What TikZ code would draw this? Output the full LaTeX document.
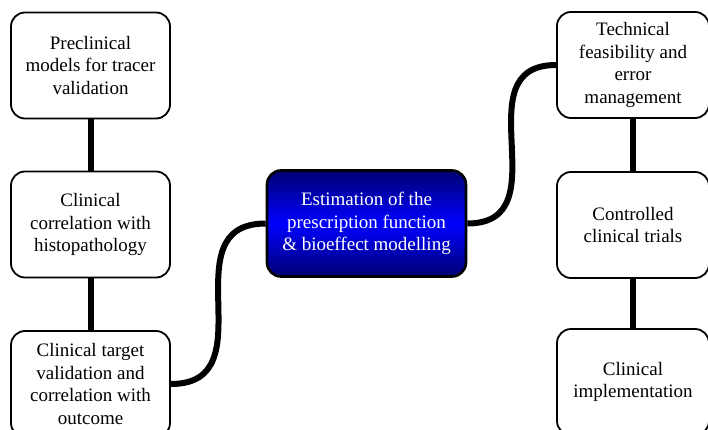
\documentclass[tikz,border=0pt]{standalone}
\usepackage{fontspec}
\setmainfont{Liberation Serif}

\begin{document}
\begin{tikzpicture}[x=1pt,y=-1pt,
    stagebox/.style={draw=black,line width=1.8pt,fill=white,rounded corners=14pt,
      minimum width=159pt,minimum height=106pt,inner sep=2pt,align=center,
      font=\fontsize{19}{22.5}\selectfont},
    hubbox/.style={stagebox,line width=2.6pt,minimum width=199pt,
      top color=blue!45!black,bottom color=blue!45!black,middle color=blue,
      text=white},
    link/.style={line width=6pt,black}
  ]
    \clip (0,0) rectangle (708,430);

    % left column
    \node[stagebox] (pre) at (90.5,65.5)
      {Preclinical\\models for tracer\\validation};
    \node[stagebox] (histo) at (90.5,224.5)
      {Clinical\\correlation with\\histopathology};
    \node[stagebox] (target) at (90.5,384)
      {Clinical target\\validation and\\correlation with\\outcome};

    % centre
    \node[hubbox] (hub) at (366.5,223.5)
      {Estimation of the\\prescription function\\\& bioeffect modelling};

    % right column
    \node[stagebox,minimum width=152pt] (tech) at (633,65)
      {Technical\\feasibility and\\error\\management};
    \node[stagebox,minimum width=152pt] (trials) at (633,225)
      {Controlled\\clinical trials};
    \node[stagebox,minimum width=152pt] (impl) at (633,382)
      {Clinical\\implementation};

    \draw[link] (pre) -- (histo);
    \draw[link] (histo) -- (target);
    \draw[link] (tech) -- (trials);
    \draw[link] (trials) -- (impl);
    \draw[link] (hub.west) to[out=180,in=0,looseness=1.35] (target.east);
    \draw[link] (hub.east) to[out=0,in=180,looseness=1.35] (tech.west);
  \end{tikzpicture}
\end{document}
